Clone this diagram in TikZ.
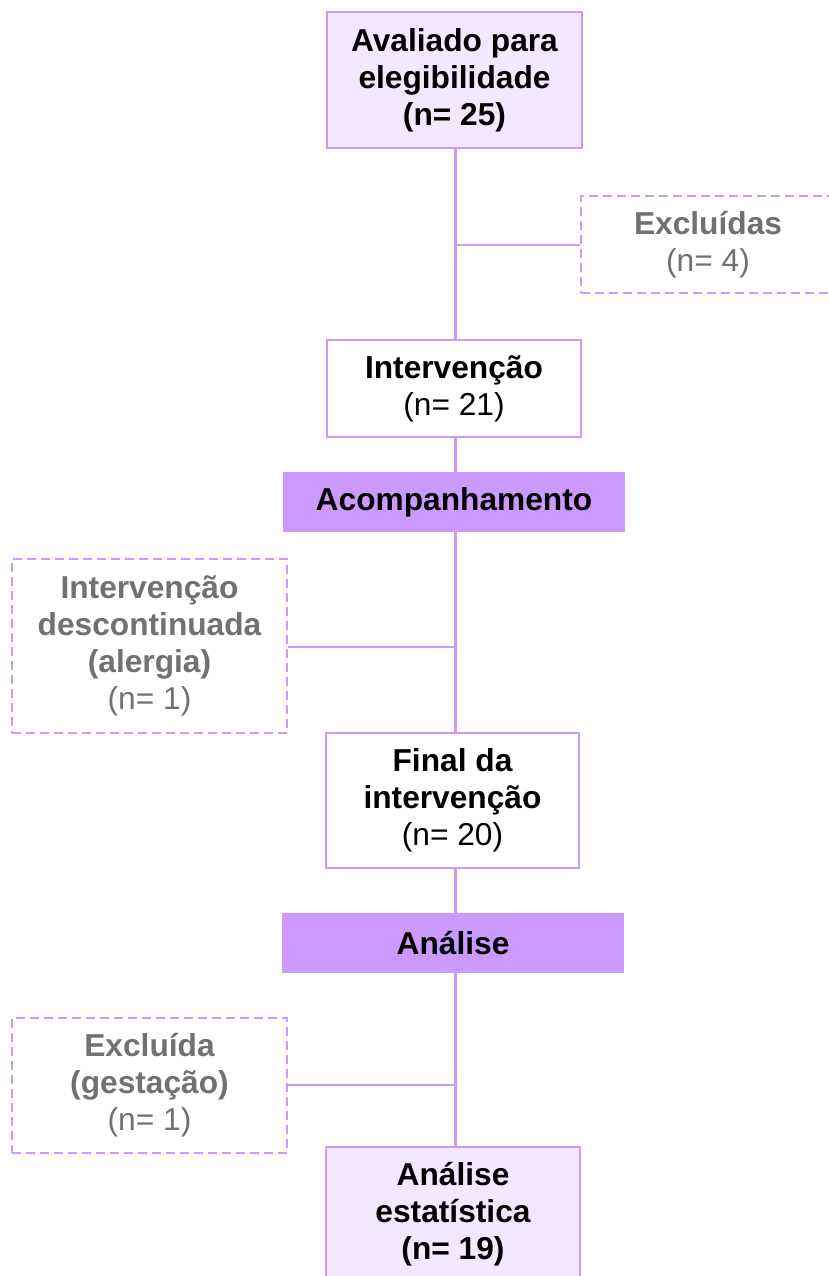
\documentclass[tikz,border=0pt]{standalone}
\usepackage{fontspec}
\setmainfont{Liberation Sans}
\definecolor{lav}{HTML}{F3E8FD}
\definecolor{pur}{HTML}{CC99FF}
\definecolor{gtx}{HTML}{747070}
\begin{document}
\begin{tikzpicture}[x=1pt,y=-1pt,
  every node/.style={font=\fontsize{31.7}{37}\selectfont, align=center, inner sep=0pt},
  mainbox/.style={draw=pur, line width=2.4pt, text=black},
  bandbox/.style={fill=pur, draw=none, text=black, font=\fontsize{31.7}{37}\selectfont\bfseries},
  exbox/.style={draw=pur, line width=2.4pt, dash pattern=on 9pt off 5pt, text=gtx},
  conn/.style={draw=pur, line width=2.2pt}]
\useasboundingbox (0,0) rectangle (829,1276);
\node[mainbox, fill=lav, minimum width=255pt, minimum height=136pt] (n1) at (454.5,80) {\bfseries Avaliado para\\\bfseries elegibilidade\\\bfseries (n= 25)};
\node[exbox, minimum width=254pt, minimum height=97pt] (ex1) at (708,244.5) {\bfseries Excluídas\\(n= 4)};
\node[mainbox, fill=white, minimum width=254pt, minimum height=97pt] (n2) at (454,388.5) {\bfseries Intervenção\\(n= 21)};
\node[bandbox, minimum width=342pt, minimum height=60pt] (b1) at (454,502) {Acompanhamento};
\node[exbox, minimum width=275pt, minimum height=174pt] (ex2) at (149.5,646) {\bfseries Intervenção\\\bfseries descontinuada\\\bfseries (alergia)\\(n= 1)};
\node[mainbox, fill=white, minimum width=253pt, minimum height=135pt] (n3) at (452.5,800.5) {\bfseries Final da\\\bfseries intervenção\\(n= 20)};
\node[bandbox, minimum width=342pt, minimum height=60pt] (b2) at (453,943) {Análise};
\node[exbox, minimum width=275pt, minimum height=135pt] (ex3) at (149.5,1085.5) {\bfseries Excluída\\\bfseries (gestação)\\(n= 1)};
\node[mainbox, fill=lav, minimum width=254pt, minimum height=134pt] (n4) at (453,1214) {\bfseries Análise\\\bfseries estatística\\\bfseries (n= 19)};
\coordinate (s1) at (455.5,245);
\coordinate (s2) at (455.5,647);
\coordinate (s3) at (455.5,1085);
\draw[conn] (n1.south -| s1) -- (n2.north -| s1);
\draw[conn] (n2.south -| s1) -- (b1.north -| s1);
\draw[conn] (b1.south -| s1) -- (n3.north -| s1);
\draw[conn] (n3.south -| s1) -- (b2.north -| s1);
\draw[conn] (b2.south -| s1) -- (n4.north -| s1);
\draw[conn] (s1) -- (ex1.west |- s1);
\draw[conn] (s2) -- (ex2.east |- s2);
\draw[conn] (s3) -- (ex3.east |- s3);
\end{tikzpicture}
\end{document}
